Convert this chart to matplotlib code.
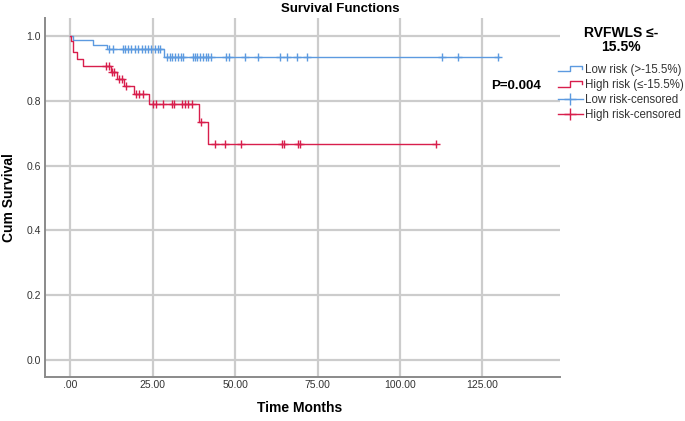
import numpy as np
import matplotlib
matplotlib.use("Agg")
import matplotlib.pyplot as plt
from matplotlib.lines import Line2D
from matplotlib.legend_handler import HandlerBase

plt.rcParams['font.family'] = ['Liberation Sans', 'DejaVu Sans']

# ---- data ----
low_times = [0, 1.0, 7.0, 11.1, 28.4, 130]
low_surv = [1.0, 0.987, 0.973, 0.959, 0.937, 0.937]
low_cens_t = [11.9, 12.9, 15.9, 16.8, 17.7, 18.6, 19.6, 20.6, 21.7, 22.6, 23.6,
              24.6, 25.6, 26.5, 27.2, 29.3, 30.2, 31.0, 31.8, 32.6, 33.5, 34.3,
              37.2, 37.9, 38.6, 39.4, 40.2, 41.1, 41.9, 42.7, 47.3, 48.1, 52.9,
              56.9, 63.7, 65.8, 68.8, 71.9, 112.6, 117.7, 129.7]

high_times = [0, 0.2, 0.8, 2.2, 4.0, 12.4, 14.2, 16.4, 19.3, 24.0, 39.1, 41.9, 111]
high_surv = [1.0, 0.985, 0.951, 0.930, 0.908, 0.888, 0.867, 0.845, 0.820, 0.790,
             0.735, 0.668, 0.668]
high_cens_t = [10.9, 11.9, 12.8, 13.4, 14.8, 15.8, 17.0, 20.0, 21.0, 22.0, 25.0,
               26.1, 28.1, 30.8, 31.6, 33.8, 34.8, 35.8, 36.9, 39.6, 43.9, 47.0,
               51.7, 64.1, 64.8, 69.0, 69.7, 111]

x_ticks = [0, 25, 50, 75, 100, 125]
x_ticklabels = ['.00', '25.00', '50.00', '75.00', '100.00', '125.00']
y_ticks = [0.0, 0.2, 0.4, 0.6, 0.8, 1.0]
y_ticklabels = ['0.0', '0.2', '0.4', '0.6', '0.8', '1.0']

legend_title = 'RVFWLS ≤-\n15.5%'
labels = ['Low risk (>-15.5%)', 'High risk (≤-15.5%)', 'Low risk-censored', 'High risk-censored']
p_text = 'P=0.004'

BLUE = '#5c9ae0'
RED = '#d81e4c'


def surv_at(times, surv, t):
    idx = np.searchsorted(np.asarray(times), np.asarray(t), side='right') - 1
    return np.asarray(surv)[idx]


W, H = 685, 421
fig = plt.figure(figsize=(W / 100, H / 100), dpi=100)
L, R, T, B = 45, 560, 18, 377
ax = fig.add_axes([L / W, 1 - B / H, (R - L) / W, (B - T) / H])

ax.set_xlim(-7.6, 148.5)
ax.set_ylim(-0.053, 1.056)

ax.set_xticks(x_ticks)
ax.set_xticklabels(x_ticklabels)
ax.set_yticks(y_ticks)
ax.set_yticklabels(y_ticklabels)
ax.grid(True, color='#cccccc', linewidth=1.6, zorder=0)
ax.set_axisbelow(True)
for s in ['top', 'right']:
    ax.spines[s].set_visible(False)
for s in ['left', 'bottom']:
    ax.spines[s].set_color('#8a8a8a')
    ax.spines[s].set_linewidth(1.4)
ax.tick_params(length=0, labelsize=7.5, colors='#333333')
ax.tick_params(axis='x', pad=2)
ax.tick_params(axis='y', pad=3)

ax.step(low_times, low_surv, where='post', color=BLUE, lw=1.0, zorder=3)
ax.step(high_times, high_surv, where='post', color=RED, lw=1.0, zorder=3)
ax.plot(low_cens_t, surv_at(low_times, low_surv, low_cens_t), ls='none',
        marker='+', ms=6, mew=1.0, color=BLUE, zorder=4)
ax.plot(high_cens_t, surv_at(high_times, high_surv, high_cens_t), ls='none',
        marker='+', ms=6, mew=1.0, color=RED, zorder=4)

fig.text(300 / W, 1 - 408 / H, 'Time Months', ha='center', va='center',
         fontsize=10, fontweight='bold')
fig.text(9 / W, 1 - 198 / H, 'Cum Survival', ha='center', va='center',
         rotation=90, fontsize=10, fontweight='bold')
fig.text(340 / W, 1 - 9 / H, 'Survival Functions', ha='center', va='center',
         fontsize=9.5, fontweight='bold')
fig.text(516 / W, 1 - 86 / H, p_text, ha='center', va='center',
         fontsize=9.5, fontweight='bold')
fig.text(621 / W, 1 - 40 / H, legend_title, ha='center', va='center',
         fontsize=10, fontweight='bold', linespacing=1.0)


class StepHandler(HandlerBase):
    def __init__(self, color):
        super().__init__()
        self.color = color

    def create_artists(self, legend, orig_handle, xdescent, ydescent, width,
                       height, fontsize, trans):
        xs = np.array([0, 0.5, 0.5, 0.95, 0.95]) * width - xdescent
        ys = np.array([0.15, 0.15, 0.85, 0.85, 0.45]) * height - ydescent
        ln = Line2D(xs, ys, color=self.color, lw=1.0, transform=trans)
        return [ln]


h_low = Line2D([], [], color=BLUE)
h_high = Line2D([], [], color=RED)
h_lc = Line2D([], [], color=BLUE, marker='+', ms=9, mew=1.0, lw=1.0)
h_hc = Line2D([], [], color=RED, marker='+', ms=9, mew=1.0, lw=1.0)
leg = fig.legend([h_low, h_high, h_lc, h_hc], labels,
                 handler_map={h_low: StepHandler(BLUE), h_high: StepHandler(RED)},
                 loc='upper left', bbox_to_anchor=(553 / W, 1 - 59 / H),
                 frameon=False, fontsize=8.3, handlelength=2.2, handletextpad=0.2,
                 labelspacing=0.28, borderaxespad=0)
for t in leg.get_texts():
    t.set_color('#333333')

fig.savefig('out.png', dpi=100)
